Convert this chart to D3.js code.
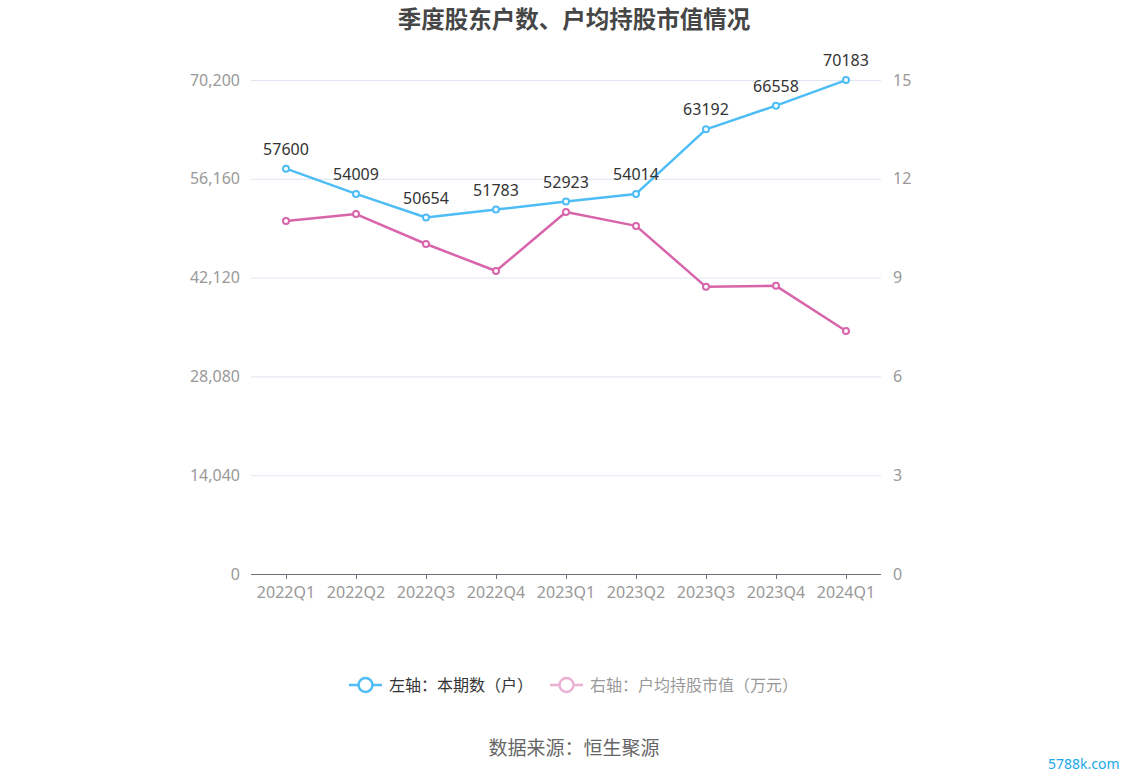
<!DOCTYPE html>
<html><head><meta charset="utf-8">
<script src="https://cdn.jsdelivr.net/npm/d3@7"></script>
<style>body{margin:0;background:#fff;}svg{display:block;font-family:"Noto Sans","Noto Sans CJK SC",sans-serif;}</style>
</head><body><svg id="c" width="1148" height="776"></svg>
<script>
const categories = ["2022Q1","2022Q2","2022Q3","2022Q4","2023Q1","2023Q2","2023Q3","2023Q4","2024Q1"];
const holders = [57600,54009,50654,51783,52923,54014,63192,66558,70183];
const avgValue = [10.72,10.93,10.02,9.20,10.99,10.57,8.72,8.75,7.38];
const leftTicks = [0,14040,28080,42120,56160,70200];
const rightTicks = [0,3,6,9,12,15];
const seriesNames = ["左轴：本期数（户）","右轴：户均持股市值（万元）"];
const title = "季度股东户数、户均持股市值情况";
const source = "数据来源：恒生聚源";

const blue = "#4fbdf5", pink = "#d865ab";
const svg = d3.select("#c");
const L = 251, R = 881, T = 80, B = 574;
const x = d3.scaleBand().domain(categories).range([L, R]);
const yL = d3.scaleLinear().domain([0, 70200]).range([B, T]);
const yR = d3.scaleLinear().domain([0, 15]).range([B, T]);
const cx = d => x(d) + x.bandwidth()/2;

svg.append("text").attr("x",574).attr("y",28).attr("text-anchor","middle")
  .attr("font-family","Noto Sans CJK SC").attr("font-size",23.5).attr("font-weight","bold").attr("fill","#464646").text(title);

// grid
svg.append("g").selectAll("line").data(leftTicks.slice(1)).join("line")
  .attr("x1",L).attr("x2",R).attr("y1",d=>yL(d)+0.5).attr("y2",d=>yL(d)+0.5)
  .attr("stroke","#e0e6f1");

// axis labels
svg.append("g").selectAll("text").data(leftTicks).join("text")
  .attr("x",240).attr("y",d=>yL(d)).attr("dy","0.35em").attr("text-anchor","end")
  .attr("font-size",16).attr("fill","#999").text(d=>d3.format(",")(d));
svg.append("g").selectAll("text").data(rightTicks).join("text")
  .attr("x",893).attr("y",d=>yR(d)).attr("dy","0.35em").attr("text-anchor","start")
  .attr("font-size",16).attr("fill","#999").text(d=>d);

// x axis
const xa = svg.append("g");
xa.append("line").attr("x1",L).attr("x2",R).attr("y1",B+0.5).attr("y2",B+0.5).attr("stroke","#6e7079");
xa.selectAll("line.t").data(categories).join("line").attr("class","t")
  .attr("x1",d=>cx(d)+0.5).attr("x2",d=>cx(d)+0.5).attr("y1",B).attr("y2",B+5).attr("stroke","#6e7079");
xa.selectAll("text").data(categories).join("text")
  .attr("x",d=>cx(d)).attr("y",B+24).attr("text-anchor","middle")
  .attr("font-size",16).attr("fill","#999").text(d=>d);

function series(vals, y, color, labels){
  const g = svg.append("g");
  const pts = categories.map((c,i)=>[cx(c), y(vals[i])]);
  g.append("path").attr("d", d3.line()(pts)).attr("fill","none").attr("stroke",color).attr("stroke-width",2.5).attr("stroke-linejoin","round");
  g.selectAll("circle").data(pts).join("circle").attr("cx",d=>d[0]).attr("cy",d=>d[1]).attr("r",3)
    .attr("fill","#fff").attr("stroke",color).attr("stroke-width",2);
  if(labels){
    g.selectAll("text").data(vals).join("text").attr("x",(d,i)=>pts[i][0]).attr("y",(d,i)=>pts[i][1]-14)
      .attr("text-anchor","middle").attr("font-size",16).attr("fill","#333").text(d=>d);
  }
}
series(avgValue, yR, pink, false);
series(holders, yL, blue, true);

// legend
const lg = svg.append("g").attr("font-family","Noto Sans CJK SC");
function legItem(x0, color, text, tcol, op){
  const g = lg.append("g").attr("opacity",op);
  g.append("line").attr("x1",x0).attr("x2",x0+33).attr("y1",685).attr("y2",685).attr("stroke",color).attr("stroke-width",2.5);
  g.append("circle").attr("cx",x0+16.5).attr("cy",685).attr("r",7).attr("fill","#fff").attr("stroke",color).attr("stroke-width",2.5);
  lg.append("text").attr("x",x0+40).attr("y",685).attr("dy","0.35em").attr("font-size",16).attr("fill",tcol).text(text);
}
legItem(349, blue, seriesNames[0], "#333", 1);
legItem(550, pink, seriesNames[1], "#999", 0.5);

svg.append("text").attr("x",574).attr("y",755).attr("text-anchor","middle").attr("font-family","Noto Sans CJK SC")
  .attr("font-size",19).attr("fill","#666").text(source);
svg.append("text").attr("x",1048).attr("y",769).attr("font-size",14).attr("fill","#1aa8e8").text("5788k.com");
</script></body></html>
